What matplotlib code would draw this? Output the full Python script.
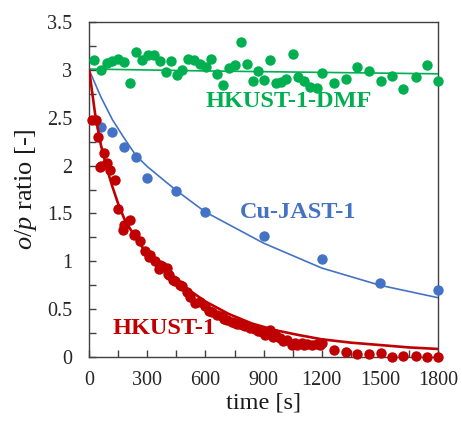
import numpy as np
import matplotlib
matplotlib.use("Agg")
import matplotlib.pyplot as plt
from matplotlib.ticker import MultipleLocator

plt.rcParams['font.family'] = ['Liberation Serif', 'DejaVu Serif']
plt.rcParams['mathtext.fontset'] = 'custom'
plt.rcParams['mathtext.rm'] = 'Liberation Serif'
plt.rcParams['mathtext.it'] = 'Liberation Serif:italic'

# HKUST-1-DMF (green)
t_dmf = [26, 60, 91, 117, 151, 180, 211, 242, 272, 306, 332, 363, 394, 421, 452,
         480, 512, 542, 573, 604, 631, 659, 693, 724, 753, 786, 813, 843, 873, 903,
         934, 965, 989, 1016, 1054, 1080, 1109, 1140, 1178, 1203, 1264, 1324, 1384,
         1444, 1505, 1564, 1621, 1685, 1745, 1800]
v_dmf = [3.10, 3.00, 3.075, 3.09, 3.11, 3.08, 2.86, 3.19, 3.10, 3.16, 3.16, 3.09, 2.98,
         3.09, 2.95, 3.00, 3.12, 3.10, 3.06, 3.03, 3.12, 2.96, 2.84, 3.02, 3.05, 3.29,
         3.06, 2.89, 2.99, 2.90, 3.10, 2.86, 2.87, 2.91, 3.17, 2.93, 2.89, 2.82, 2.81,
         2.97, 2.86, 2.91, 3.03, 2.99, 2.89, 2.94, 2.80, 2.93, 3.05, 2.89]
fit_t_dmf = [0, 600, 1200, 1800]
fit_v_dmf = [3.01, 2.99, 2.975, 2.96]

# Cu-JAST-1 (blue)
t_jast = [60, 120, 180, 240, 300, 450, 600, 900, 1200, 1500, 1800]
v_jast = [2.40, 2.35, 2.19, 2.09, 1.87, 1.74, 1.515, 1.26, 1.02, 0.775, 0.70]
fit_t_jast = [0, 60, 120, 180, 240, 300, 450, 600, 900, 1200, 1500, 1800]
fit_v_jast = [3.0, 2.72, 2.48, 2.29, 2.11, 1.99, 1.74, 1.515, 1.19, 0.93, 0.75, 0.62]

# HKUST-1 (red)
t_hk = [17, 34, 48, 57, 62, 79, 91, 108, 131, 151, 177, 182, 211, 229, 237, 263, 289,
        309, 315, 340, 361, 366, 375, 401, 409, 413, 435, 444, 469, 478, 504, 521, 547,
        573, 598, 620, 633, 659, 685, 697, 710, 736, 750, 762, 780, 795, 805, 830, 856,
        870, 891, 908, 934, 951, 960, 985, 1000, 1020, 1045, 1060, 1071, 1097, 1110,
        1123, 1148, 1174, 1190, 1200, 1264, 1324, 1384, 1444, 1505, 1564, 1621, 1685,
        1745, 1800]
v_hk = [2.48, 2.48, 2.30, 1.99, 2.00, 2.13, 2.03, 1.95, 1.85, 1.55, 1.33, 1.38, 1.43,
        1.27, 1.29, 1.21, 1.11, 1.05, 1.07, 1.00, 0.92, 0.96, 0.95, 0.93, 0.87, 0.86,
        0.80, 0.79, 0.75, 0.74, 0.68, 0.63, 0.56, 0.58, 0.53, 0.48, 0.47, 0.44, 0.43,
        0.40, 0.39, 0.37, 0.36, 0.35, 0.35, 0.33, 0.32, 0.30, 0.29, 0.27, 0.26, 0.23,
        0.28, 0.21, 0.24, 0.195, 0.17, 0.18, 0.125, 0.15, 0.125, 0.15, 0.13, 0.14,
        0.125, 0.14, 0.13, 0.15, 0.073, 0.056, 0.03, 0.03, 0.045, 0.003, 0.014, 0.01,
        0.003, 0.0]
fit_t_hk = [0, 30, 60, 90, 120, 150, 180, 240, 300, 360, 420, 480, 600, 720, 840, 960,
            1080, 1200, 1350, 1500, 1650, 1800]
fit_v_hk = [3.0, 2.55, 2.22, 1.98, 1.78, 1.60, 1.45, 1.24, 1.08, 0.95, 0.84, 0.75, 0.58,
            0.45, 0.35, 0.28, 0.23, 0.185, 0.15, 0.125, 0.10, 0.084]

green = '#00B050'
blue = '#4472C4'
red = '#C00000'

fig = plt.figure(figsize=(4.62, 4.26), dpi=100)
ax = fig.add_axes([0.193, 0.162, 0.755, 0.786])

ms = 7.5
ax.plot(t_dmf, v_dmf, 'o', color=green, ms=ms, mec='none', clip_on=False, zorder=3)
ax.plot(fit_t_dmf, fit_v_dmf, '-', color=green, lw=1.2, zorder=4)
ax.plot(t_jast, v_jast, 'o', color=blue, ms=ms, mec='none', clip_on=False, zorder=3)
ax.plot(fit_t_jast, fit_v_jast, '-', color=blue, lw=1.2, zorder=4)
ax.plot(t_hk, v_hk, 'o', color=red, ms=ms, mec='none', clip_on=False, zorder=3)
ax.plot(fit_t_hk, fit_v_hk, '-', color=red, lw=1.9, zorder=4)

ax.text(1032, 2.67, 'HKUST-1-DMF', color=green, fontsize=17.5, fontweight='bold',
        ha='center', va='center')
ax.text(1076, 1.51, 'Cu-JAST-1', color=blue, fontsize=17.5, fontweight='bold',
        ha='center', va='center')
ax.text(387, 0.30, 'HKUST-1', color=red, fontsize=17.5, fontweight='bold',
        ha='center', va='center')

ax.set_xlim(0, 1800)
ax.set_ylim(0, 3.5)
ax.xaxis.set_major_locator(MultipleLocator(300))
ax.xaxis.set_minor_locator(MultipleLocator(150))
ax.yaxis.set_major_locator(MultipleLocator(0.5))
ax.yaxis.set_minor_locator(MultipleLocator(0.25))
ax.set_yticks([0, 0.5, 1, 1.5, 2, 2.5, 3, 3.5])
ax.set_yticklabels(['0', '0.5', '1', '1.5', '2', '2.5', '3', '3.5'])

for s in ax.spines.values():
    s.set_color('#404040')
    s.set_linewidth(1.0)
ax.tick_params(which='both', direction='in', length=5, width=1, color='#404040',
               labelsize=14.5, labelcolor='#262626', top=False, right=False)
ax.tick_params(axis='x', which='major', pad=10)
ax.tick_params(axis='y', which='major', pad=12)

ax.set_xlabel('time [s]', fontsize=17.5, color='#1a1a1a', labelpad=2)
ax.set_ylabel('$o$/$p$ ratio [-]', fontsize=19, color='#1a1a1a', labelpad=6)

fig.savefig('out.png', dpi=100)
